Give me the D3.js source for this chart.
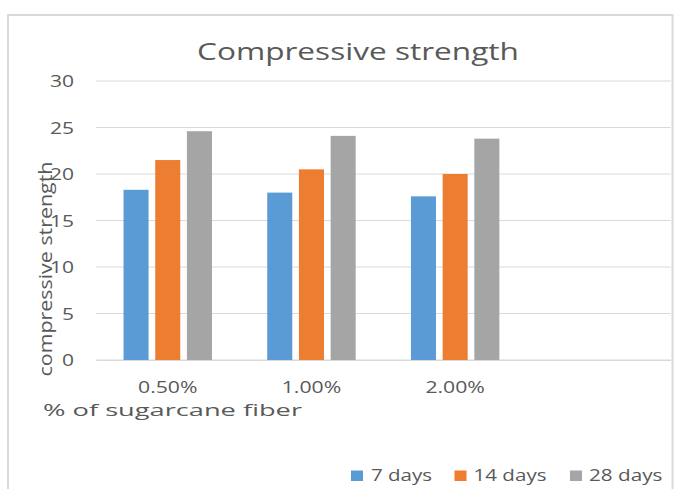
<!DOCTYPE html>
<html>
<head>
<meta charset="utf-8">
<script src="https://cdn.jsdelivr.net/npm/d3@7"></script>
<style>
  html, body { margin: 0; padding: 0; background: #fff; }
  svg { display: block; }
  text { font-family: "Open Sans", Lato, "DejaVu Sans", sans-serif; fill: #595959; }
</style>
</head>
<body>
<svg id="chart" width="674" height="489"></svg>
<script>
// Fiber contents (the last slot is an empty category, as in the workbook)
const categories = ["0.50%", "1.00%", "2.00%", ""];
const seriesNames = ["7 days", "14 days", "28 days"];
const days7  = [18.3, 18.0, 17.6];
const days14 = [21.5, 20.5, 20.0];
const days28 = [24.6, 24.1, 23.8];
const yTicks = [0, 5, 10, 15, 20, 25, 30];
const colors = ["#5B9BD5", "#ED7D31", "#A5A5A5"];

const seriesValues = [days7, days14, days28];
const rows = categories.slice(0, 3).map((c, i) => ({
  cat: c,
  vals: seriesNames.map((s, j) => ({ key: s, value: seriesValues[j][i] }))
}));

const svg = d3.select("#chart");

// chart area frame
svg.append("rect")
  .attr("x", 8).attr("y", 15)
  .attr("width", 664.5).attr("height", 500)
  .attr("fill", "#fff")
  .attr("stroke", "#D9D9D9").attr("stroke-width", 2);

const x0 = d3.scaleBand().domain(categories).range([95.9, 670.7]);
const x1 = d3.scaleBand().domain(seriesNames)
  .range([0, x0.bandwidth()])
  .paddingInner(0.21).paddingOuter(0.872);
const y = d3.scaleLinear().domain([0, 30]).range([360, 81]);

// gridlines
svg.append("g").selectAll("line").data(yTicks).join("line")
  .attr("x1", 95.9).attr("x2", 670.7)
  .attr("y1", d => y(d)).attr("y2", d => y(d))
  .attr("stroke", "#D9D9D9").attr("stroke-width", 1);

// y tick labels (wide, Calibri-like digit spacing)
const yAxis = d3.axisLeft(y).tickValues(yTicks).tickSize(0).tickPadding(0);
const gy = svg.append("g").attr("transform", "translate(74,0)").call(yAxis);
gy.select(".domain").remove();
gy.selectAll("text")
  .attr("font-size", 16)
  .attr("fill", "#595959")
  .attr("dy", "0.36em")
  .attr("textLength", d => String(d).length * 12)
  .attr("lengthAdjust", "spacingAndGlyphs")
  .style("font-family", "'Open Sans', sans-serif");

// bars
svg.append("g").selectAll("g").data(rows).join("g")
  .attr("transform", d => `translate(${x0(d.cat)},0)`)
  .selectAll("rect").data(d => d.vals).join("rect")
  .attr("x", d => x1(d.key))
  .attr("width", x1.bandwidth())
  .attr("y", d => y(d.value))
  .attr("height", d => y(0) - y(d.value))
  .attr("fill", (d, i) => colors[i]);

// category axis
const xAxis = d3.axisBottom(x0).tickSize(0).tickPadding(0);
const gx = svg.append("g").attr("transform", "translate(0,360)").call(xAxis);
gx.select(".domain").attr("stroke", "#D9D9D9");
gx.selectAll("text")
  .attr("dy", null)
  .attr("y", 33.3)
  .attr("font-size", 15.5)
  .attr("fill", "#595959")
  .attr("textLength", d => d ? 59.5 : null)
  .attr("lengthAdjust", "spacingAndGlyphs")
  .style("font-family", "'Open Sans', sans-serif");

// title
svg.append("text")
  .attr("x", 358).attr("y", 60)
  .attr("text-anchor", "middle")
  .attr("font-size", 24.5)
  .attr("textLength", 322).attr("lengthAdjust", "spacingAndGlyphs")
  .text("Compressive strength");

// axis titles
svg.append("text")
  .attr("x", 43).attr("y", 416)
  .attr("font-size", 16.5)
  .attr("textLength", 259).attr("lengthAdjust", "spacingAndGlyphs")
  .text("% of sugarcane fiber");

svg.append("text")
  .attr("transform", "translate(52,269) rotate(-90)")
  .attr("text-anchor", "middle")
  .attr("font-size", 18)
  .attr("textLength", 215).attr("lengthAdjust", "spacingAndGlyphs")
  .text("compressive strength");

// legend
const legendX = [351, 454.5, 570];
const legendW = [61, 73, 73.5];
const lg = svg.append("g").selectAll("g").data(seriesNames).join("g")
  .attr("transform", (d, i) => `translate(${legendX[i]},0)`);
lg.append("rect")
  .attr("x", 0).attr("y", 470.5)
  .attr("width", 12).attr("height", 10.5)
  .attr("fill", (d, i) => colors[i]);
lg.append("text")
  .attr("x", (d, i) => i === 0 ? 20 : 19)
  .attr("y", 480.7)
  .attr("font-size", 16.5)
  .attr("textLength", (d, i) => legendW[i]).attr("lengthAdjust", "spacingAndGlyphs")
  .text(d => d);
</script>
</body>
</html>
